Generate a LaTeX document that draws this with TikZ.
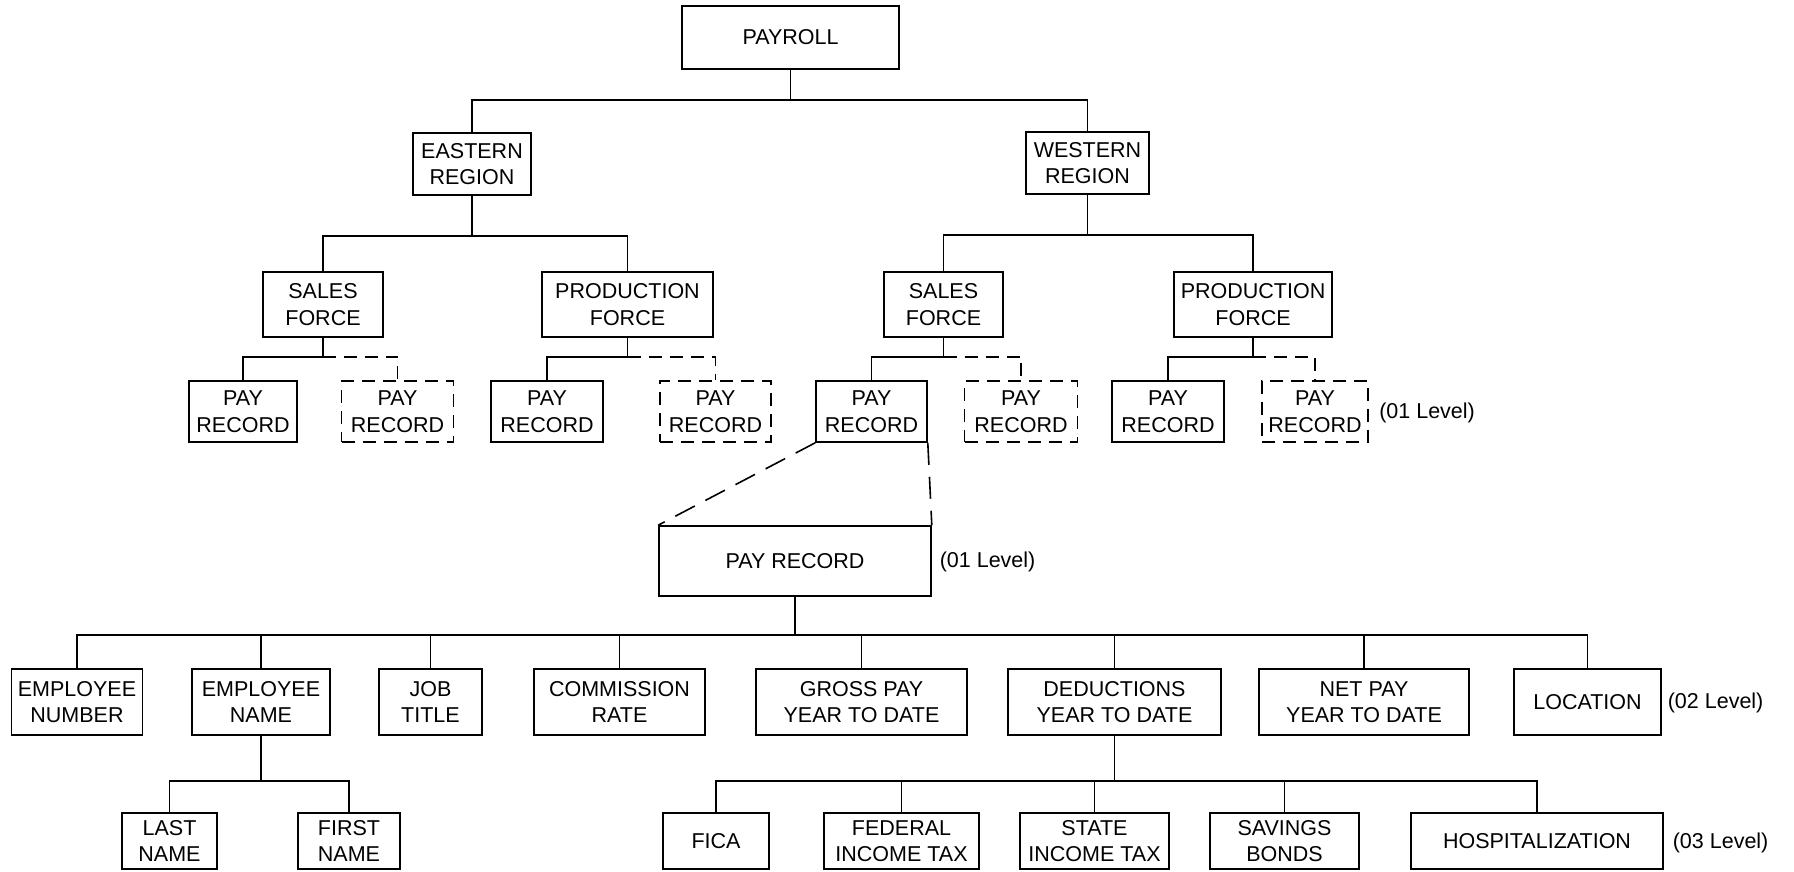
\documentclass[tikz,border=0pt]{standalone}
\usepackage{fontspec}
\setmainfont{Liberation Sans}

\begin{document}
\begin{tikzpicture}[x=1pt,y=-1pt,line width=1.6pt,
		font=\fontsize{21.5}{26.5}\selectfont,
		box/.style={draw,inner sep=0pt,align=center},
		dbox/.style={box,dash pattern=on 13pt off 8pt},
		dline/.style={dash pattern=on 13pt off 8pt},
		zoomline/.style={dash pattern=on 22pt off 12pt},
		lvl/.style={anchor=west,inner sep=0pt}]
		\useasboundingbox (0,0) rectangle (1794,871);
		
		% top of the tree
		\node[box,minimum width=217pt,minimum height=63pt] (payroll) at (790.5,37.5) {PAYROLL};
		\node[box,minimum width=118pt,minimum height=62pt] (eastreg) at (472,164) {EASTERN\\REGION};
		\node[box,minimum width=123pt,minimum height=62pt] (westreg) at (1087.5,163) {WESTERN\\REGION};
		
		\node[box,minimum width=120pt,minimum height=65pt] (salesE) at (323,304.5) {SALES\\FORCE};
		\node[box,minimum width=171pt,minimum height=65pt] (prodE) at (627.5,304.5) {PRODUCTION\\FORCE};
		\node[box,minimum width=119pt,minimum height=65pt] (salesW) at (943.5,304.5) {SALES\\FORCE};
		\node[box,minimum width=158pt,minimum height=65pt] (prodW) at (1253,304.5) {PRODUCTION\\FORCE};
		
		\node[box,minimum width=108pt,minimum height=61pt] (recA) at (243,411.5) {PAY\\RECORD};
		\node[dbox,minimum width=112pt,minimum height=61pt] (recAx) at (397.5,411.5) {PAY\\RECORD};
		\node[box,minimum width=112pt,minimum height=61pt] (recB) at (547,411.5) {PAY\\RECORD};
		\node[dbox,minimum width=111pt,minimum height=61pt] (recBx) at (715.5,411.5) {PAY\\RECORD};
		\node[box,minimum width=111pt,minimum height=61pt] (recC) at (871.5,411.5) {PAY\\RECORD};
		\node[dbox,minimum width=113pt,minimum height=61pt] (recCx) at (1021,411.5) {PAY\\RECORD};
		\node[box,minimum width=112pt,minimum height=61pt] (recD) at (1168,411.5) {PAY\\RECORD};
		\node[dbox,minimum width=106pt,minimum height=61pt] (recDx) at (1315,411.5) {PAY\\RECORD};
		\node[lvl] (lvlA) at (1378.5,413) {(01 Level)};
		
		\draw (payroll.south) -- ++(0,30) coordinate (j0);
		\draw (eastreg.north) |- (j0) -| (westreg.north);
		\draw (eastreg.south) -- ++(0,40) coordinate (j1);
		\draw (salesE.north) |- (j1) -| (prodE.north);
		\draw (westreg.south) -- ++(0,40) coordinate (j2);
		\draw (salesW.north) |- (j2) -| (prodW.north);
		
		\draw (salesE.south) -- ++(0,19) coordinate (ja);
		\draw (recA.north) |- (ja);
		\draw[dline] (ja) -| (recAx.north);
		\draw (prodE.south) -- ++(0,19) coordinate (jb);
		\draw (recB.north) |- (jb);
		\draw[dline] (jb) -| (recBx.north);
		\draw (salesW.south) -- ++(0,19) coordinate (jc);
		\draw (recC.north) |- (jc);
		\draw[dline] (jc) -| (recCx.north);
		\draw (prodW.south) -- ++(0,19) coordinate (jd);
		\draw (recD.north) |- (jd);
		\draw[dline] (jd) -| (recDx.north);
		
		% the record blown up
		\node[box,minimum width=272pt,minimum height=70pt] (bigrec) at (795,561) {PAY RECORD};
		\node[lvl] (lvlB) at (939,562) {(01 Level)};
		\draw[zoomline] (recC.south west) -- (bigrec.north west);
		\draw[zoomline] (recC.south east) -- (bigrec.north east);
		
		\node[box,minimum width=131pt,minimum height=66pt] (empnum) at (77,702) {EMPLOYEE\\NUMBER};
		\node[box,minimum width=138pt,minimum height=66pt] (empname) at (261,702) {EMPLOYEE\\NAME};
		\node[box,minimum width=103pt,minimum height=66pt] (jobtitle) at (430.5,702) {JOB\\TITLE};
		\node[box,minimum width=171pt,minimum height=66pt] (commrate) at (619.5,702) {COMMISSION\\RATE};
		\node[box,minimum width=211pt,minimum height=66pt] (grosspay) at (861.5,702) {GROSS PAY\\YEAR TO DATE};
		\node[box,minimum width=213pt,minimum height=66pt] (deduct) at (1114.5,702) {DEDUCTIONS\\YEAR TO DATE};
		\node[box,minimum width=210pt,minimum height=66pt] (netpay) at (1364,702) {NET PAY\\YEAR TO DATE};
		\node[box,minimum width=147pt,minimum height=66pt] (location) at (1587.5,702) {LOCATION};
		\node[lvl] (lvlC) at (1667,703) {(02 Level)};
		
		\draw (bigrec.south) -- ++(0,38) coordinate (j3);
		\draw (empnum.north) |- (j3) -| (location.north);
		\foreach \n in {empname,jobtitle,commrate,grosspay,deduct,netpay}
		\draw (\n.north) -- (\n.north |- j3);
		
		\node[box,minimum width=95pt,minimum height=56pt] (lastname) at (169.5,841) {LAST\\NAME};
		\node[box,minimum width=102pt,minimum height=56pt] (firstname) at (349,841) {FIRST\\NAME};
		\node[box,minimum width=106pt,minimum height=56pt] (fica) at (716,841) {FICA};
		\node[box,minimum width=155pt,minimum height=56pt] (fedtax) at (901.5,841) {FEDERAL\\INCOME TAX};
		\node[box,minimum width=149pt,minimum height=56pt] (statetax) at (1094.5,841) {STATE\\INCOME TAX};
		\node[box,minimum width=149pt,minimum height=56pt] (savings) at (1284.5,841) {SAVINGS\\BONDS};
		\node[box,minimum width=252pt,minimum height=56pt] (hospital) at (1537,841) {HOSPITALIZATION};
		\node[lvl] (lvlD) at (1672,843) {(03 Level)};
		
		\draw (empname.south) -- ++(0,45) coordinate (j4);
		\draw (lastname.north) |- (j4) -| (firstname.north);
		\draw (deduct.south) -- ++(0,45) coordinate (j5);
		\draw (fica.north) |- (j5) -| (hospital.north);
		\foreach \n in {fedtax,statetax,savings}
		\draw (\n.north) -- (\n.north |- j5);
	\end{tikzpicture}
\end{document}
